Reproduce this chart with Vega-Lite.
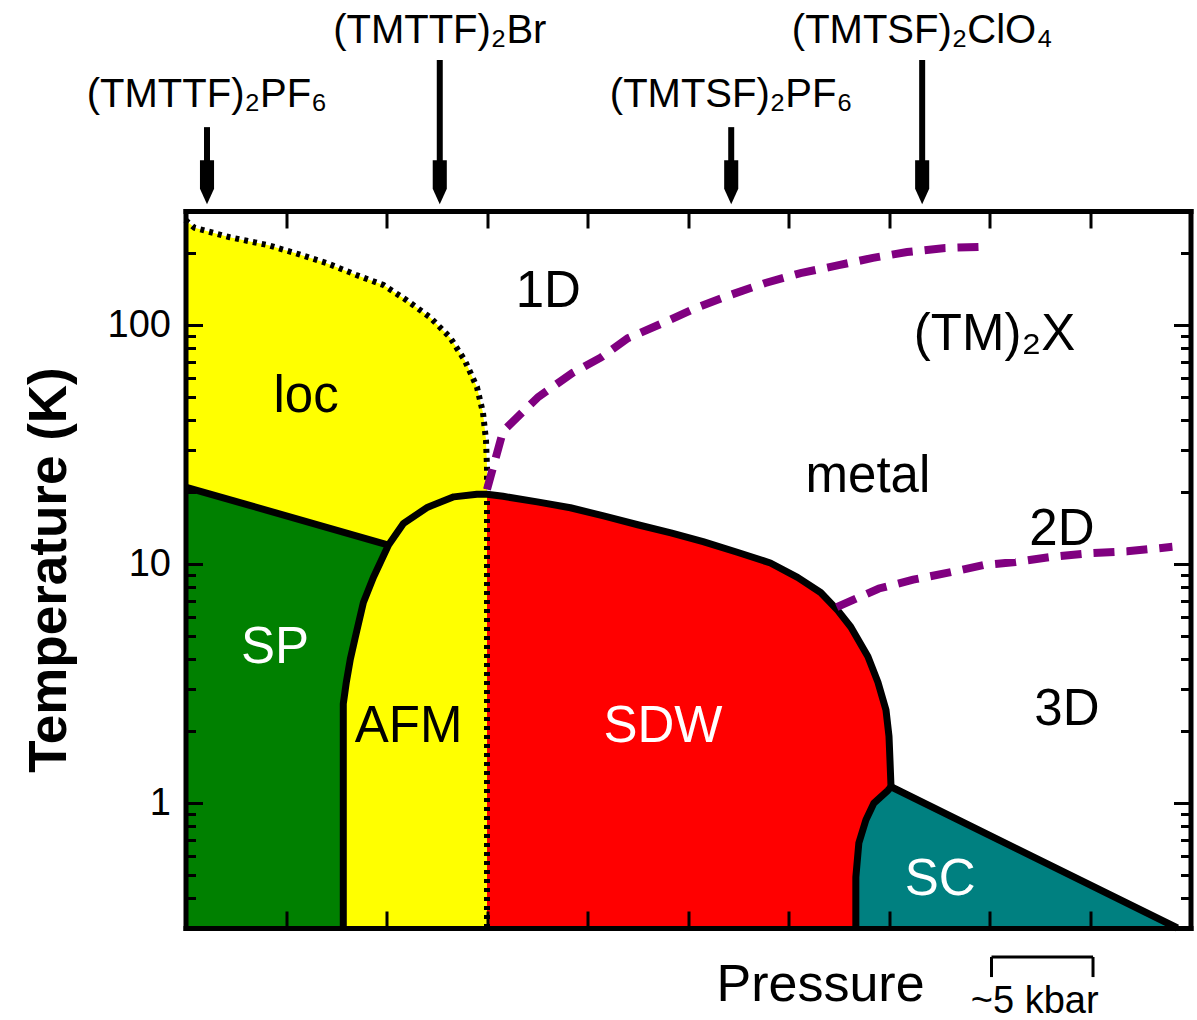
{
  "$schema": "https://vega.github.io/schema/vega-lite/v6.json",
  "width": 1005,
  "height": 717,
  "autosize": {"type": "none"},
  "padding": {"left": 185.5, "top": 211, "right": 6.5, "bottom": 92},
  "background": "white",
  "config": {
    "view": {"stroke": null},
    "font": "Liberation Sans",
    "axis": {
      "domainColor": "black",
      "domainWidth": 5,
      "domainCap": "square",
      "tickColor": "black",
      "tickWidth": 3,
      "grid": false,
      "zindex": 1,
      "labelFont": "Liberation Sans",
      "labelColor": "black",
      "titleFont": "Liberation Sans",
      "titleColor": "black"
    }
  },
  "datasets": {
    "regions": [
      {"region": "SP", "i": 0, "p": 0, "T": 0.3},
      {"region": "SP", "i": 1, "p": 0, "T": 21},
      {"region": "SP", "i": 2, "p": 2.02, "T": 12.0},
      {"region": "SP", "i": 3, "p": 1.87, "T": 8.8},
      {"region": "SP", "i": 4, "p": 1.77, "T": 6.9},
      {"region": "SP", "i": 5, "p": 1.69, "T": 4.95},
      {"region": "SP", "i": 6, "p": 1.64, "T": 4.0},
      {"region": "SP", "i": 7, "p": 1.60, "T": 3.2},
      {"region": "SP", "i": 8, "p": 1.57, "T": 2.6},
      {"region": "SP", "i": 9, "p": 1.57, "T": 0.3},

      {"region": "loc", "i": 0, "p": 0, "T": 21},
      {"region": "loc", "i": 1, "p": 0, "T": 275},
      {"region": "loc", "i": 2, "p": 0.09, "T": 255},
      {"region": "loc", "i": 3, "p": 0.44, "T": 233},
      {"region": "loc", "i": 4, "p": 0.82, "T": 216},
      {"region": "loc", "i": 5, "p": 1.09, "T": 200},
      {"region": "loc", "i": 6, "p": 1.40, "T": 182},
      {"region": "loc", "i": 7, "p": 1.70, "T": 162},
      {"region": "loc", "i": 8, "p": 1.97, "T": 147},
      {"region": "loc", "i": 9, "p": 2.20, "T": 127},
      {"region": "loc", "i": 10, "p": 2.43, "T": 108},
      {"region": "loc", "i": 11, "p": 2.63, "T": 89},
      {"region": "loc", "i": 12, "p": 2.78, "T": 71},
      {"region": "loc", "i": 13, "p": 2.90, "T": 55},
      {"region": "loc", "i": 14, "p": 2.96, "T": 43},
      {"region": "loc", "i": 15, "p": 2.99, "T": 33},
      {"region": "loc", "i": 16, "p": 3.0, "T": 25.5},
      {"region": "loc", "i": 17, "p": 3.0, "T": 19.6},
      {"region": "loc", "i": 18, "p": 2.90, "T": 19.6},
      {"region": "loc", "i": 19, "p": 2.67, "T": 19.1},
      {"region": "loc", "i": 20, "p": 2.41, "T": 17.3},
      {"region": "loc", "i": 21, "p": 2.17, "T": 14.8},
      {"region": "loc", "i": 22, "p": 2.02, "T": 12.0},

      {"region": "AFM", "i": 0, "p": 1.57, "T": 0.3},
      {"region": "AFM", "i": 1, "p": 1.57, "T": 2.6},
      {"region": "AFM", "i": 2, "p": 1.60, "T": 3.2},
      {"region": "AFM", "i": 3, "p": 1.64, "T": 4.0},
      {"region": "AFM", "i": 4, "p": 1.69, "T": 4.95},
      {"region": "AFM", "i": 5, "p": 1.77, "T": 6.9},
      {"region": "AFM", "i": 6, "p": 1.87, "T": 8.8},
      {"region": "AFM", "i": 7, "p": 2.02, "T": 12.0},
      {"region": "AFM", "i": 8, "p": 2.17, "T": 14.8},
      {"region": "AFM", "i": 9, "p": 2.41, "T": 17.3},
      {"region": "AFM", "i": 10, "p": 2.67, "T": 19.1},
      {"region": "AFM", "i": 11, "p": 2.90, "T": 19.6},
      {"region": "AFM", "i": 12, "p": 3.0, "T": 19.6},
      {"region": "AFM", "i": 13, "p": 3.0, "T": 0.3},

      {"region": "SDW", "i": 0, "p": 3.0, "T": 0.3},
      {"region": "SDW", "i": 1, "p": 3.0, "T": 19.6},
      {"region": "SDW", "i": 2, "p": 3.16, "T": 19.2},
      {"region": "SDW", "i": 3, "p": 3.50, "T": 18.2},
      {"region": "SDW", "i": 4, "p": 3.83, "T": 17.2},
      {"region": "SDW", "i": 5, "p": 4.16, "T": 15.9},
      {"region": "SDW", "i": 6, "p": 4.50, "T": 14.6},
      {"region": "SDW", "i": 7, "p": 4.83, "T": 13.5},
      {"region": "SDW", "i": 8, "p": 5.15, "T": 12.4},
      {"region": "SDW", "i": 9, "p": 5.49, "T": 11.2},
      {"region": "SDW", "i": 10, "p": 5.82, "T": 10.1},
      {"region": "SDW", "i": 11, "p": 6.09, "T": 8.8},
      {"region": "SDW", "i": 12, "p": 6.32, "T": 7.6},
      {"region": "SDW", "i": 13, "p": 6.49, "T": 6.4},
      {"region": "SDW", "i": 14, "p": 6.62, "T": 5.45},
      {"region": "SDW", "i": 15, "p": 6.79, "T": 4.1},
      {"region": "SDW", "i": 16, "p": 6.89, "T": 3.2},
      {"region": "SDW", "i": 17, "p": 6.97, "T": 2.45},
      {"region": "SDW", "i": 18, "p": 7.0, "T": 1.9},
      {"region": "SDW", "i": 19, "p": 7.01, "T": 1.5},
      {"region": "SDW", "i": 20, "p": 7.02, "T": 1.17},
      {"region": "SDW", "i": 21, "p": 6.99, "T": 1.13},
      {"region": "SDW", "i": 22, "p": 6.85, "T": 1.0},
      {"region": "SDW", "i": 23, "p": 6.77, "T": 0.85},
      {"region": "SDW", "i": 24, "p": 6.70, "T": 0.68},
      {"region": "SDW", "i": 25, "p": 6.67, "T": 0.49},
      {"region": "SDW", "i": 26, "p": 6.67, "T": 0.3},

      {"region": "SC", "i": 0, "p": 6.67, "T": 0.3},
      {"region": "SC", "i": 1, "p": 6.67, "T": 0.49},
      {"region": "SC", "i": 2, "p": 6.70, "T": 0.68},
      {"region": "SC", "i": 3, "p": 6.77, "T": 0.85},
      {"region": "SC", "i": 4, "p": 6.85, "T": 1.0},
      {"region": "SC", "i": 5, "p": 6.99, "T": 1.13},
      {"region": "SC", "i": 6, "p": 7.02, "T": 1.17},
      {"region": "SC", "i": 7, "p": 9.87, "T": 0.3}
    ],
    "solid": [
      {"id": "sp", "i": 0, "p": 0, "T": 21},
      {"id": "sp", "i": 1, "p": 2.02, "T": 12.0},

      {"id": "dome", "i": 0, "p": 1.57, "T": 0.3},
      {"id": "dome", "i": 1, "p": 1.57, "T": 2.6},
      {"id": "dome", "i": 2, "p": 1.60, "T": 3.2},
      {"id": "dome", "i": 3, "p": 1.64, "T": 4.0},
      {"id": "dome", "i": 4, "p": 1.69, "T": 4.95},
      {"id": "dome", "i": 5, "p": 1.77, "T": 6.9},
      {"id": "dome", "i": 6, "p": 1.87, "T": 8.8},
      {"id": "dome", "i": 7, "p": 2.02, "T": 12.0},
      {"id": "dome", "i": 8, "p": 2.17, "T": 14.8},
      {"id": "dome", "i": 9, "p": 2.41, "T": 17.3},
      {"id": "dome", "i": 10, "p": 2.67, "T": 19.1},
      {"id": "dome", "i": 11, "p": 2.90, "T": 19.6},
      {"id": "dome", "i": 12, "p": 3.0, "T": 19.6},
      {"id": "dome", "i": 13, "p": 3.16, "T": 19.2},
      {"id": "dome", "i": 14, "p": 3.50, "T": 18.2},
      {"id": "dome", "i": 15, "p": 3.83, "T": 17.2},
      {"id": "dome", "i": 16, "p": 4.16, "T": 15.9},
      {"id": "dome", "i": 17, "p": 4.50, "T": 14.6},
      {"id": "dome", "i": 18, "p": 4.83, "T": 13.5},
      {"id": "dome", "i": 19, "p": 5.15, "T": 12.4},
      {"id": "dome", "i": 20, "p": 5.49, "T": 11.2},
      {"id": "dome", "i": 21, "p": 5.82, "T": 10.1},
      {"id": "dome", "i": 22, "p": 6.09, "T": 8.8},
      {"id": "dome", "i": 23, "p": 6.32, "T": 7.6},
      {"id": "dome", "i": 24, "p": 6.49, "T": 6.4},
      {"id": "dome", "i": 25, "p": 6.62, "T": 5.45},
      {"id": "dome", "i": 26, "p": 6.79, "T": 4.1},
      {"id": "dome", "i": 27, "p": 6.89, "T": 3.2},
      {"id": "dome", "i": 28, "p": 6.97, "T": 2.45},
      {"id": "dome", "i": 29, "p": 7.0, "T": 1.9},
      {"id": "dome", "i": 30, "p": 7.01, "T": 1.5},
      {"id": "dome", "i": 31, "p": 7.02, "T": 1.17},

      {"id": "sc", "i": 0, "p": 6.67, "T": 0.3},
      {"id": "sc", "i": 1, "p": 6.67, "T": 0.49},
      {"id": "sc", "i": 2, "p": 6.70, "T": 0.68},
      {"id": "sc", "i": 3, "p": 6.77, "T": 0.85},
      {"id": "sc", "i": 4, "p": 6.85, "T": 1.0},
      {"id": "sc", "i": 5, "p": 6.99, "T": 1.13},
      {"id": "sc", "i": 6, "p": 7.02, "T": 1.17},
      {"id": "sc", "i": 7, "p": 9.87, "T": 0.3}
    ],
    "dotted": [
      {"id": "loc", "i": 0, "p": 0, "T": 275},
      {"id": "loc", "i": 1, "p": 0.09, "T": 255},
      {"id": "loc", "i": 2, "p": 0.44, "T": 233},
      {"id": "loc", "i": 3, "p": 0.82, "T": 216},
      {"id": "loc", "i": 4, "p": 1.09, "T": 200},
      {"id": "loc", "i": 5, "p": 1.40, "T": 182},
      {"id": "loc", "i": 6, "p": 1.70, "T": 162},
      {"id": "loc", "i": 7, "p": 1.97, "T": 147},
      {"id": "loc", "i": 8, "p": 2.20, "T": 127},
      {"id": "loc", "i": 9, "p": 2.43, "T": 108},
      {"id": "loc", "i": 10, "p": 2.63, "T": 89},
      {"id": "loc", "i": 11, "p": 2.78, "T": 71},
      {"id": "loc", "i": 12, "p": 2.90, "T": 55},
      {"id": "loc", "i": 13, "p": 2.96, "T": 43},
      {"id": "loc", "i": 14, "p": 2.99, "T": 33},
      {"id": "loc", "i": 15, "p": 3.0, "T": 25.5},
      {"id": "loc", "i": 16, "p": 3.0, "T": 19.6},
      {"id": "afm_sdw", "i": 0, "p": 3.0, "T": 0.3},
      {"id": "afm_sdw", "i": 1, "p": 3.0, "T": 19.6}
    ],
    "crossover": [
      {"id": "1D-2D", "i": 0, "p": 3.0, "T": 20.5},
      {"id": "1D-2D", "i": 1, "p": 3.16, "T": 36},
      {"id": "1D-2D", "i": 2, "p": 3.51, "T": 50},
      {"id": "1D-2D", "i": 3, "p": 3.85, "T": 63},
      {"id": "1D-2D", "i": 4, "p": 4.13, "T": 73},
      {"id": "1D-2D", "i": 5, "p": 4.40, "T": 88},
      {"id": "1D-2D", "i": 6, "p": 4.75, "T": 102},
      {"id": "1D-2D", "i": 7, "p": 5.08, "T": 118},
      {"id": "1D-2D", "i": 8, "p": 5.43, "T": 134},
      {"id": "1D-2D", "i": 9, "p": 5.77, "T": 150},
      {"id": "1D-2D", "i": 10, "p": 6.12, "T": 165},
      {"id": "1D-2D", "i": 11, "p": 6.50, "T": 178},
      {"id": "1D-2D", "i": 12, "p": 6.84, "T": 191},
      {"id": "1D-2D", "i": 13, "p": 7.18, "T": 202},
      {"id": "1D-2D", "i": 14, "p": 7.56, "T": 210},
      {"id": "1D-2D", "i": 15, "p": 8.0, "T": 213},
      {"id": "2D-3D", "i": 0, "p": 6.48, "T": 6.6},
      {"id": "2D-3D", "i": 1, "p": 6.90, "T": 7.9},
      {"id": "2D-3D", "i": 2, "p": 7.24, "T": 8.6},
      {"id": "2D-3D", "i": 3, "p": 7.59, "T": 9.2},
      {"id": "2D-3D", "i": 4, "p": 7.94, "T": 9.9},
      {"id": "2D-3D", "i": 5, "p": 8.26, "T": 10.2},
      {"id": "2D-3D", "i": 6, "p": 8.61, "T": 10.7},
      {"id": "2D-3D", "i": 7, "p": 9.00, "T": 11.1},
      {"id": "2D-3D", "i": 8, "p": 9.37, "T": 11.3},
      {"id": "2D-3D", "i": 9, "p": 9.82, "T": 11.8}
    ],
    "phases": [
      {"label": "1D", "p": 3.61, "T": 119},
      {"label": "loc", "p": 1.20, "T": 43.3},
      {"label": "metal", "p": 6.79, "T": 20.0},
      {"label": "(TM)₂X", "p": 8.05, "T": 78.6},
      {"label": "2D", "p": 8.72, "T": 12.0},
      {"label": "3D", "p": 8.77, "T": 2.12},
      {"label": "SP", "p": 0.89, "T": 3.85},
      {"label": "AFM", "p": 2.22, "T": 1.80},
      {"label": "SDW", "p": 4.75, "T": 1.80},
      {"label": "SC", "p": 7.51, "T": 0.412}
    ],
    "compounds": [
      {"name": "(TMTTF)₂PF₆", "p": 0.214, "label_T": 817, "arrow_from": 673},
      {"name": "(TMTTF)₂Br", "p": 2.53, "label_T": 1514, "arrow_from": 1285},
      {"name": "(TMTSF)₂PF₆", "p": 5.43, "label_T": 817, "arrow_from": 673},
      {"name": "(TMTSF)₂ClO₄", "p": 7.33, "label_T": 1514, "arrow_from": 1285}
    ],
    "scalebar": [
      {"p1": 8.02, "p2": 9.03, "T1": 0.227, "T2": 0.227},
      {"p1": 8.02, "p2": 8.02, "T1": 0.227, "T2": 0.187},
      {"p1": 9.03, "p2": 9.03, "T1": 0.227, "T2": 0.187}
    ],
    "scalebar_label": [
      {"text": "~5 kbar", "p": 8.45, "T": 0.132}
    ]
  },
  "layer": [
    {
      "data": {"name": "regions"},
      "mark": {"type": "line", "interpolate": "linear-closed", "strokeWidth": 0},
      "encoding": {
        "x": {
          "field": "p", "type": "quantitative",
          "scale": {"domain": [0, 10], "nice": false, "zero": false},
          "axis": {
            "orient": "bottom",
            "zindex": 2,
            "values": [1, 2, 3, 4, 5, 6, 7, 8, 9],
            "labels": false,
            "tickSize": -17,
            "title": "Pressure",
            "titleFontSize": 52,
            "titleFontWeight": "normal",
            "titleX": 634.5,
            "titleY": 72,
            "titleAlign": "center",
            "titleBaseline": "alphabetic",
            "titleAnchor": null
          }
        },
        "y": {
          "field": "T", "type": "quantitative",
          "scale": {"type": "log", "domain": [0.3, 300], "nice": false},
          "axis": {
            "orient": "left",
            "zindex": 2,
            "values": [0.3, 0.4, 0.5, 0.6, 0.7, 0.8, 0.9, 1, 2, 3, 4, 5, 6, 7, 8, 9, 10, 20, 30, 40, 50, 60, 70, 80, 90, 100, 200, 300],
            "labelExpr": "indexof([1, 10, 100], datum.value) >= 0 ? format(datum.value, 'd') : ''",
            "labelFontSize": 38,
            "labelPadding": 32,
            "tickSize": {"condition": {"test": "indexof([1, 10, 100], datum.value) >= 0", "value": -17}, "value": -10},
            "title": "Temperature (K)",
            "titleFontSize": 53,
            "titleFontWeight": "bold",
            "titleAngle": 270,
            "titleX": -120.5,
            "titleY": 358.5,
            "titleAlign": "center",
            "titleBaseline": "alphabetic",
            "titleAnchor": null
          }
        },
        "fill": {
          "field": "region", "type": "nominal",
          "scale": {"domain": ["SP", "loc", "AFM", "SDW", "SC"], "range": ["#008000", "#FFFF00", "#FFFF00", "#FF0000", "#008080"]},
          "legend": null
        },
        "detail": {"field": "region"},
        "order": {"field": "i", "type": "quantitative"}
      }
    },
    {
      "data": {"name": "solid"},
      "mark": {"type": "line", "color": "black", "strokeWidth": 7, "strokeJoin": "round"},
      "encoding": {
        "x": {
          "field": "p", "type": "quantitative",
          "scale": {"domain": [0, 10], "nice": false, "zero": false},
          "axis": {
            "orient": "top",
            "zindex": 2,
            "values": [1, 2, 3, 4, 5, 6, 7, 8, 9],
            "labels": false,
            "tickSize": -17,
            "title": null
          }
        },
        "y": {
          "field": "T", "type": "quantitative",
          "scale": {"type": "log", "domain": [0.3, 300], "nice": false},
          "axis": {
            "orient": "right",
            "zindex": 2,
            "values": [0.3, 0.4, 0.5, 0.6, 0.7, 0.8, 0.9, 1, 2, 3, 4, 5, 6, 7, 8, 9, 10, 20, 30, 40, 50, 60, 70, 80, 90, 100, 200, 300],
            "labels": false,
            "tickSize": {"condition": {"test": "indexof([1, 10, 100], datum.value) >= 0", "value": -17}, "value": -10},
            "title": null
          }
        },
        "detail": {"field": "id"},
        "order": {"field": "i", "type": "quantitative"}
      }
    },
    {
      "data": {"name": "dotted"},
      "mark": {"type": "line", "color": "black", "strokeWidth": 6, "strokeDash": [4, 5]},
      "encoding": {
        "x": {"field": "p", "type": "quantitative", "axis": null},
        "y": {"field": "T", "type": "quantitative", "axis": null},
        "detail": {"field": "id"},
        "order": {"field": "i", "type": "quantitative"}
      }
    },
    {
      "data": {"name": "crossover"},
      "mark": {"type": "line", "color": "#800080", "strokeWidth": 8, "strokeDash": [21, 12]},
      "encoding": {
        "x": {"field": "p", "type": "quantitative", "axis": null},
        "y": {"field": "T", "type": "quantitative", "axis": null},
        "detail": {"field": "id"},
        "order": {"field": "i", "type": "quantitative"}
      }
    },
    {
      "data": {"name": "phases"},
      "mark": {"type": "text", "fontSize": 51, "align": "center", "baseline": "alphabetic", "font": "Liberation Sans"},
      "encoding": {
        "x": {"field": "p", "type": "quantitative", "axis": null},
        "y": {"field": "T", "type": "quantitative", "axis": null},
        "text": {"field": "label"},
        "color": {
          "condition": {"test": "indexof(['SP', 'SDW', 'SC'], datum.label) >= 0", "value": "white"},
          "value": "black"
        }
      }
    },
    {
      "data": {"name": "compounds"},
      "mark": {"type": "text", "fontSize": 40, "align": "center", "baseline": "alphabetic", "color": "black", "font": "Liberation Sans"},
      "encoding": {
        "x": {"field": "p", "type": "quantitative", "axis": null},
        "y": {"field": "label_T", "type": "quantitative", "axis": null},
        "text": {"field": "name"}
      }
    },
    {
      "data": {"name": "compounds"},
      "mark": {"type": "rule", "color": "black", "strokeWidth": 6},
      "encoding": {
        "x": {"field": "p", "type": "quantitative", "axis": null},
        "y": {"field": "arrow_from", "type": "quantitative", "axis": null},
        "y2": {"datum": 424}
      }
    },
    {
      "data": {"name": "compounds"},
      "mark": {
        "type": "point",
        "shape": "M -0.32 -1 L 0.32 -1 L 0.32 0.3 L 0 1 L -0.32 0.3 Z",
        "filled": true,
        "color": "black",
        "opacity": 1,
        "size": 1936
      },
      "encoding": {
        "x": {"field": "p", "type": "quantitative", "axis": null},
        "y": {"datum": 396, "type": "quantitative", "axis": null}
      }
    },
    {
      "data": {"name": "scalebar"},
      "mark": {"type": "rule", "color": "black", "strokeWidth": 3},
      "encoding": {
        "x": {"field": "p1", "type": "quantitative", "axis": null},
        "x2": {"field": "p2"},
        "y": {"field": "T1", "type": "quantitative", "axis": null},
        "y2": {"field": "T2"}
      }
    },
    {
      "data": {"name": "scalebar_label"},
      "mark": {"type": "text", "fontSize": 38, "align": "center", "baseline": "alphabetic", "color": "black", "font": "Liberation Sans"},
      "encoding": {
        "x": {"field": "p", "type": "quantitative", "axis": null},
        "y": {"field": "T", "type": "quantitative", "axis": null},
        "text": {"field": "text"}
      }
    }
  ],
  "resolve": {"axis": {"x": "independent", "y": "independent"}}
}
